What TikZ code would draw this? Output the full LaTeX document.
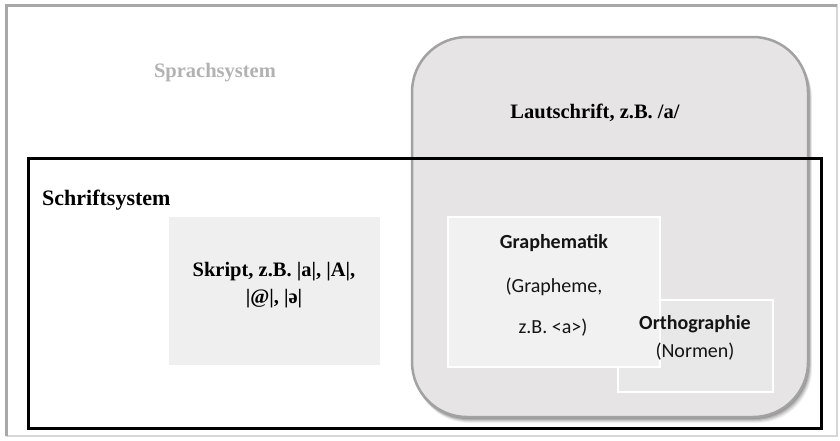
\documentclass[tikz,border=0pt]{standalone}
\usepackage{fontspec}
\setmainfont{Liberation Serif}
\newfontfamily\calfont{Carlito}
\begin{document}
\begin{tikzpicture}[x=1pt,y=-1pt,
  serlabel/.style={font=\fontsize{20.5}{27}\selectfont\bfseries, text=black, inner sep=0pt, anchor=base},
  sanslabel/.style={font=\calfont\fontsize{20}{24}\selectfont, text=black!92, inner sep=0pt, anchor=base},
  panel/.style={draw=white, line width=2.5pt}
]
\definecolor{framegray}{HTML}{A8A8A8}
\definecolor{lightframe}{HTML}{D6D6D6}
\definecolor{roundfill}{HTML}{E6E4E4}
\definecolor{roundedge}{HTML}{A2A2A2}
\definecolor{skriptfill}{HTML}{EFEFEF}
\definecolor{graphfill}{HTML}{F1F1F1}
\definecolor{orthofill}{HTML}{E9E8E8}
\definecolor{faded}{HTML}{B2B2B2}

\useasboundingbox (0,0) rectangle (840,440);
\fill[white] (0,0) rectangle (840,440);

% outer frame: darker on top and left, lighter on right and bottom
\draw[lightframe, line width=2pt] (6,5) -- (837,5) -- (837,436) -- (6,436);
\draw[framegray, line width=3pt] (6,436) -- (6,5) -- (837,5);

% script box
\fill[skriptfill] (169,217) rectangle (380,365);

% soft shadow of the rounded region
\foreach \o/\a in {6/0.05,5/0.07,4/0.09,3/0.11,2/0.14}{
  \fill[black, opacity=\a, rounded corners=55pt]
    (412+\o*0.4,37+\o) rectangle (808+\o*0.7,417+\o);
}
% rounded region (Lautschrift)
\draw[roundedge, fill=roundfill, line width=2.5pt, rounded corners=55pt]
  (412,37) rectangle (808,417);

% Schriftsystem frame
\draw[black, line width=3pt] (28,158) rectangle (821,428);

% Orthographie and Graphematik panels
\draw[panel, fill=orthofill] (618,300) rectangle (773,392);
\draw[panel, fill=graphfill] (448,217) rectangle (660,367);

% labels
\node[serlabel, text=faded] (spr) at (215,77) {Sprachsystem};
\node[serlabel, anchor=base west, font=\fontsize{22}{26}\selectfont\bfseries] (schr) at (42,205) {Schriftsystem};
\node[serlabel] (laut) at (595,118) {Lautschrift, z.B. /a/};
\node[serlabel] (skr1) at (274,276) {Skript, z.B. |a|, |A|,};
\node[serlabel] (skr2) at (274,303) {|@|, |ə|};

\node[sanslabel, font=\calfont\bfseries\fontsize{20}{24}\selectfont] (gra) at (554,248) {Graphematik};
\node[sanslabel] (gra2) at (554,292) {(Grapheme,};
\node[sanslabel] (gra3) at (553,333) {z.B. <a>)};
\node[sanslabel, font=\calfont\bfseries\fontsize{20}{24}\selectfont] (ort) at (695,329) {Orthographie};
\node[sanslabel] (ort2) at (695,357) {(Normen)};
\end{tikzpicture}
\end{document}
